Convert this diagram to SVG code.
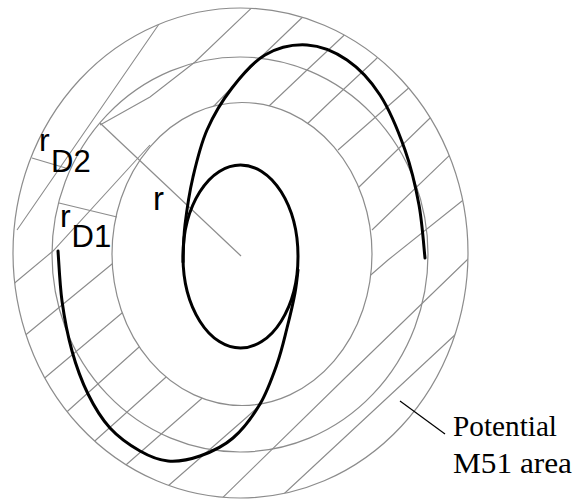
<svg xmlns="http://www.w3.org/2000/svg" width="574" height="502" viewBox="0 0 574 502">
<style>
.ring{fill:none;stroke:#8c8c8c;stroke-width:1.2}
.hatch{fill:none;stroke:#8c8c8c;stroke-width:1.1}
.arm{fill:none;stroke:#000;stroke-width:3;stroke-linejoin:round;stroke-linecap:round}
.sans{font-family:"Liberation Sans",Arial,sans-serif;fill:#000}
.serif{font-family:"Liberation Serif","Times New Roman",serif;fill:#000}
</style>
<defs>
<clipPath id="band">
<path clip-rule="evenodd" d="M13,253 a227.5,245 0 1,0 455,0 a227.5,245 0 1,0 -455,0 Z M112,254 a130,151.5 0 1,0 260,0 a130,151.5 0 1,0 -260,0 Z"/>
</clipPath>
</defs>
<g id="hatching" clip-path="url(#band)">
<polyline class="hatch" points="262,-2 195,62 150,97 100,125"/>
<polyline class="hatch" points="310,10 260,58 213,107"/>
<polyline class="hatch" points="355,25 307,70 268,107"/>
<polyline class="hatch" points="395,40 375,60 330,102 305,126"/>
<polyline class="hatch" points="420,78 403,93 338,150"/>
<polyline class="hatch" points="445,104 428,120 358,188"/>
<polyline class="hatch" points="470,130 450,155 372,230"/>
<polyline class="hatch" points="480,186 467,197 388,260 365,280"/>
<polyline class="hatch" points="480,248 467,260 343,380 210,510"/>
<polyline class="hatch" points="475,316 457,333 287,491 270,507"/>
<polyline class="hatch" points="0,296 17,281 53,251 138,158 150,145"/>
<polyline class="hatch" points="10,348 28,333 112,264 125,253"/>
<polyline class="hatch" points="30,391 47,376 122,313 135,302"/>
<polyline class="hatch" points="55,423 70,409 138,348 150,337"/>
<polyline class="hatch" points="82,453 97,439 165,378 178,367"/>
<polyline class="hatch" points="112,478 127,464 200,400 215,387"/>
<polyline class="hatch" points="150,502 168,486 247,417 270,396"/>
<polyline class="hatch" points="165,15 157,27 17,230"/>
</g>
<g id="rings">
<ellipse id="outer-ring" class="ring" cx="240.5" cy="253" rx="227.5" ry="245"/>
<ellipse id="middle-ring" class="ring" cx="240" cy="254.5" rx="188" ry="197.5"/>
<ellipse id="inner-ring" class="ring" cx="242" cy="254" rx="130" ry="151.5"/>
</g>
<g id="connectors">
<line id="r-line" class="ring" x1="100" y1="123" x2="241" y2="256"/>
<line id="rD2-line" class="ring" x1="32" y1="158" x2="69" y2="169"/>
<line id="rD1-line" class="ring" x1="59" y1="203" x2="117" y2="217"/>
<line id="leader" x1="400" y1="401" x2="445" y2="434" stroke="#000" stroke-width="1.2"/>
</g>
<g id="spiral">
<ellipse id="core-loop" class="arm" cx="240.5" cy="256.5" rx="57.5" ry="91.5"/>
<path id="arm1" class="arm" d="M425,258 C424,249.2 422.3,223 419,205 C415.7,187 411.5,168.3 405,150 C398.5,131.7 389.7,110 380,95 C370.3,80 359.2,68.3 347,60 C334.8,51.7 320.7,45.8 307,45 C293.3,44.2 277.5,47.8 265,55 C252.5,62.2 241.7,75.5 232,88 C222.3,100.5 213.5,115.2 207,130 C200.5,144.8 196.7,161.2 193,177 C189.3,192.8 186.7,210.8 185,225 C183.3,239.2 183.3,255.8 183,262"/>
<path id="arm2" class="arm" d="M298,270 C297.5,273.8 296.8,283.3 295,293 C293.2,302.7 290,316.2 287,328 C284,339.8 281.5,351.3 277,364 C272.5,376.7 267.3,391.7 260,404 C252.7,416.3 243,429.3 233,438 C223,446.7 210.8,452.2 200,456 C189.2,459.8 178,461.8 168,461 C158,460.2 149.7,456.5 140,451 C130.3,445.5 118.7,437.5 110,428 C101.3,418.5 94.3,406.8 88,394 C81.7,381.2 76.3,366.5 72,351 C67.7,335.5 64.3,317.7 62,301 C59.7,284.3 58.7,259.3 58,251"/>
</g>
<g id="labels">
<g id="label-r"><text class="sans" x="153" y="210" font-size="33">r</text></g>
<g id="label-rD2"><text class="sans" x="39" y="151" font-size="32">r</text><text class="sans" x="51" y="172" font-size="31">D2</text></g>
<g id="label-rD1"><text class="sans" x="60" y="227" font-size="32">r</text><text class="sans" x="71.5" y="247" font-size="31">D1</text></g>
<g id="label-area"><text class="serif" x="453" y="436" font-size="30" textLength="104" lengthAdjust="spacingAndGlyphs">Potential</text><text class="serif" x="453" y="473" font-size="30" textLength="119" lengthAdjust="spacingAndGlyphs">M51 area</text></g>
</g>
</svg>
